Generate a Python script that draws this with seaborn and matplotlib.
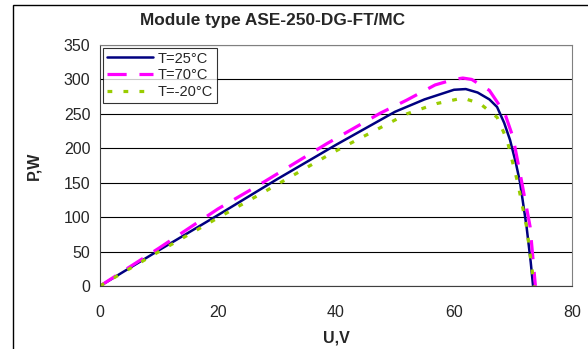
import pandas as pd
import seaborn as sns
import matplotlib.pyplot as plt
from matplotlib.patches import Rectangle

# curve data (U in V, P in W)
u_25 = [0, 10, 20, 30, 40, 50, 55, 60, 62, 64, 66, 67.3, 68.5, 69.5, 70.5, 71.2, 72.3, 73, 73.4]
p_25 = [0, 52, 103, 155, 205, 253, 271, 285, 286, 281, 271, 260, 237, 212, 178, 150, 86, 35, 0]

u_70 = [0, 10, 20, 27, 38.5, 47.5, 52, 56.8, 60, 61.5, 63, 66, 68.6, 70, 71.5, 72.9, 73.7, 73.8]
p_70 = [0, 55, 112, 147, 207, 251, 270, 292, 300, 302, 300, 284, 251, 216, 150, 86, 9, 0]

u_m20 = [0, 10, 20, 27.5, 39.5, 52, 57.1, 61.5, 64.4, 67.3, 69, 70.8, 72.3, 73.4, 73.6]
p_m20 = [0, 50, 99, 135, 194, 250, 265, 273, 265, 245, 212, 150, 86, 13, 0]

labels = ["T=25°C", "T=70°C", "T=-20°C"]

df = pd.concat([
    pd.DataFrame({"U": u_25, "P": p_25, "T": labels[0]}),
    pd.DataFrame({"U": u_70, "P": p_70, "T": labels[1]}),
    pd.DataFrame({"U": u_m20, "P": p_m20, "T": labels[2]}),
])

sns.set_style("white")
plt.rcParams["font.family"] = ["Liberation Sans", "DejaVu Sans"]

fig = plt.figure(figsize=(5.88, 3.49), dpi=100)
ax = fig.add_axes([100 / 588, 63 / 349, 472 / 588, 241 / 349])

# outer chart frame like the Excel chart area
fig.patches.append(Rectangle((13 / 588, -0.1), 1.2, 1.1 - 5 / 349, transform=fig.transFigure,
                             fill=False, edgecolor="black", lw=1.0))

palette = {labels[0]: "#000080", labels[1]: "#FF00FF", labels[2]: "#99CC00"}
dashes = {labels[0]: "", labels[1]: (6, 4), labels[2]: (1.5, 3.5)}
sns.lineplot(data=df, x="U", y="P", hue="T", style="T", palette=palette, dashes=dashes,
             sort=False, estimator=None, ax=ax)
for line, lw in zip(ax.lines, [1.8, 2.3, 2.3]):
    line.set_linewidth(lw)

ax.set_xlim(0, 80)
ax.set_ylim(0, 350)
ax.set_xticks(range(0, 81, 20))
ax.set_yticks(range(0, 351, 50))
ax.yaxis.grid(True, color="black", lw=0.8)
ax.set_axisbelow(True)
for side in ["top", "right"]:
    ax.spines[side].set_color("#808080")
for side in ["left", "bottom"]:
    ax.spines[side].set_color("#404040")
ax.tick_params(direction="out", length=4, width=0.8, labelsize=11.5, color="#404040", pad=3)
ax.tick_params(axis="x", pad=10)

fig.text(273 / 588, 1 - 20 / 349, "Module type ASE-250-DG-FT/MC", fontsize=12.4,
         fontweight="bold", ha="center", va="center")
ax.set_xlabel("U,V", fontsize=11.5, fontweight="bold", labelpad=7)
ax.set_ylabel("P,W", fontsize=11.5, fontweight="bold", labelpad=16)

leg = ax.legend(loc="upper left", bbox_to_anchor=(0.0, 1.0), fontsize=10.5, frameon=True,
                fancybox=False, edgecolor="black", handlelength=3.2, handletextpad=0.3,
                labelspacing=0.2, borderpad=0.25, borderaxespad=0.2)
leg.get_frame().set_linewidth(0.8)
for h, lw in zip(leg.get_lines(), [1.8, 2.3, 2.3]):
    h.set_linewidth(lw)

fig.savefig("out.png", dpi=100)
